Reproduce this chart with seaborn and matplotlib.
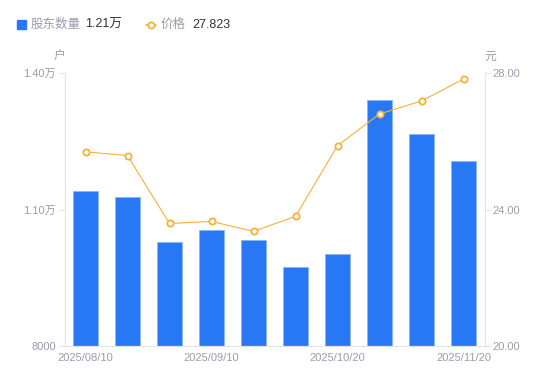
import matplotlib
matplotlib.use("Agg")
import matplotlib.pyplot as plt
import seaborn as sns
import pandas as pd
from matplotlib.lines import Line2D
from matplotlib.patches import Rectangle

# data
dates = ["2025/08/10", "2025/08/20", "2025/08/31", "2025/09/10", "2025/09/19",
         "2025/09/30", "2025/10/20", "2025/10/31", "2025/11/10", "2025/11/20"]
holders = [11416, 11285, 10277, 10540, 10321, 9730, 10015, 13409, 12664, 12073]
price = [25.69, 25.58, 23.59, 23.65, 23.36, 23.80, 25.87, 26.80, 27.18, 27.823]
shown_ticks = ["2025/08/10", "2025/09/10", "2025/10/20", "2025/11/20"]

df = pd.DataFrame({"date": dates, "holders": holders, "price": price})

sns.set_theme(style="white")
plt.rcParams["font.family"] = ["Liberation Sans", "Noto Sans CJK SC", "DejaVu Sans"]

bar_color = "#2878f5"
line_color = "#f7b136"
text_gray = "#9c9cad"
axis_gray = "#e3e3e8"

fig = plt.figure(figsize=(5.5, 3.81), dpi=100)
ax = fig.add_axes([64.5 / 550, 1 - 346 / 381, 420 / 550, 273 / 381])

sns.barplot(data=df, x="date", y="holders", color=bar_color, width=0.6,
            edgecolor="#8ab4fb", linewidth=0.6, saturation=1, ax=ax)
ax.set_ylim(8000, 14000)
ax.set_yticks([8000, 11000, 14000])
ax.set_yticklabels(["8000", "1.10万", "1.40万"])
ax.set_xlim(-0.5, len(dates) - 0.5)

ax2 = ax.twinx()
sns.lineplot(x=list(range(len(dates))), y=df["price"], color=line_color,
             linewidth=0.8, marker="o", markersize=4.5, markerfacecolor="white",
             markeredgecolor=line_color, markeredgewidth=1.3, ax=ax2)
ax2.set_ylim(20, 28)
ax2.set_yticks([20, 24, 28])
ax2.set_yticklabels(["20.00", "24.00", "28.00"])

ticks = [dates.index(d) for d in shown_ticks]
ax.set_xticks(ticks)
ax.set_xticklabels(shown_ticks)

for a in (ax, ax2):
    a.set_xlabel("")
    a.set_ylabel("")
    a.grid(False)
    for s in a.spines.values():
        s.set_color(axis_gray)
        s.set_linewidth(0.8)
    a.spines["top"].set_visible(False)
    a.tick_params(axis="both", colors=text_gray, labelsize=8, length=4,
                  width=0.8, color=axis_gray, pad=2)
ax.tick_params(axis="x", length=0, pad=5)
ax2.tick_params(axis="x", length=0)
ax.tick_params(axis="y", left=True)
ax2.tick_params(axis="y", right=True)
ax2.spines["left"].set_visible(False)
ax.spines["right"].set_visible(False)

# units
fig.text(59 / 550, 1 - 57 / 381, "户", color=text_gray, fontsize=8.5,
         ha="center", va="center")
fig.text(490 / 550, 1 - 57 / 381, "元", color=text_gray, fontsize=8.5,
         ha="center", va="center")

# legend header
fig.patches.append(Rectangle((17 / 550, 1 - 29 / 381), 9 / 550, 9 / 381,
                             transform=fig.transFigure, color=bar_color))
fig.text(31 / 550, 1 - 25 / 381, "股东数量", color=text_gray, fontsize=9, va="center")
fig.text(85 / 550, 1 - 25 / 381, "1.21万", color="#333333", fontsize=9, va="center")
fig.add_artist(Line2D([146 / 550, 156 / 550], [1 - 24.5 / 381] * 2,
                      transform=fig.transFigure, color=line_color, linewidth=1.2))
fig.add_artist(Line2D([151 / 550], [1 - 24.5 / 381], transform=fig.transFigure,
                      color=line_color, marker="o", markersize=4.5,
                      markerfacecolor="white", markeredgewidth=1.3))
fig.text(161 / 550, 1 - 25 / 381, "价格", color=text_gray, fontsize=9, va="center")
fig.text(192 / 550, 1 - 25 / 381, "27.823", color="#333333", fontsize=9, va="center")

fig.savefig("out.png", dpi=100)
